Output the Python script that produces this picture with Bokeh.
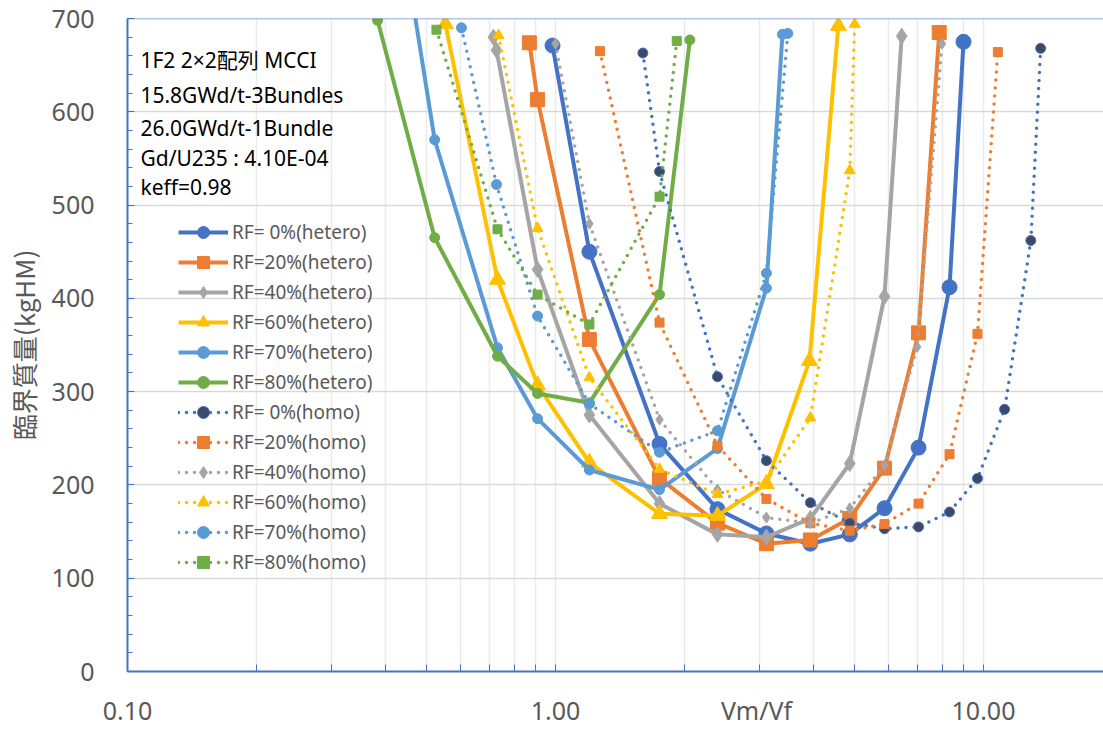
import numpy as np
from bokeh.plotting import figure
from bokeh.models import FixedTicker, PrintfTickFormatter, Label, Span, Legend, LegendItem
from bokeh.embed import file_html
from bokeh.resources import INLINE

# ---------------- data ----------------
x_rf0_het = [0.984, 1.20, 1.75, 2.39, 3.11, 3.94, 4.87, 5.87, 7.05, 8.33, 8.98]
y_rf0_het = [671, 450, 244, 174, 148, 137, 147, 175, 240, 412, 675]
x_rf20_het = [0.869, 0.908, 1.20, 1.75, 2.39, 3.11, 3.94, 4.87, 5.87, 7.05, 7.88]
y_rf20_het = [674, 613, 356, 207, 159, 137, 141, 164, 218, 363, 685]
x_rf40_het = [0.716, 0.728, 0.908, 1.20, 1.75, 2.39, 3.11, 3.94, 4.87, 5.87, 6.44]
y_rf40_het = [680, 666, 431, 275, 180, 147, 144, 164, 223, 402, 681]
x_rf60_het = [0.553, 0.732, 0.908, 1.20, 1.75, 2.39, 3.11, 3.92, 4.58]
y_rf60_het = [694, 420, 307, 224, 169, 167, 201, 333, 692]
x_rf70_het = [0.384, 0.522, 0.732, 0.908, 1.20, 1.75, 2.39, 3.11, 3.39]
y_rf70_het = [955, 570, 347, 271, 216, 195, 239, 411, 683]
x_rf80_het = [0.384, 0.522, 0.732, 0.908, 1.20, 1.75, 2.06]
y_rf80_het = [698, 465, 338, 298, 288, 404, 677]

x_rf0_hom = [1.60, 1.75, 2.39, 3.11, 3.94, 4.87, 5.87, 7.05, 8.33, 9.68, 11.2, 12.9, 13.6]
y_rf0_hom = [663, 536, 316, 226, 181, 159, 153, 155, 171, 207, 281, 462, 668]
x_rf20_hom = [1.27, 1.75, 2.39, 3.11, 3.94, 4.87, 5.87, 7.05, 8.33, 9.68, 10.8]
y_rf20_hom = [665, 374, 242, 185, 159, 151, 158, 180, 233, 362, 664]
x_rf40_hom = [1.00, 1.20, 1.75, 2.39, 3.11, 3.94, 4.87, 5.87, 7.00, 8.00]
y_rf40_hom = [673, 480, 270, 195, 165, 159, 175, 221, 348, 673]
x_rf60_hom = [0.736, 0.908, 1.20, 1.75, 2.39, 3.11, 3.94, 4.87, 5.00]
y_rf60_hom = [682, 475, 315, 217, 190, 204, 272, 537, 694]
x_rf70_hom = [0.603, 0.728, 0.908, 1.20, 1.75, 2.39, 3.11, 3.49]
y_rf70_hom = [690, 522, 381, 287, 235, 258, 427, 684]
x_rf80_hom = [0.527, 0.732, 0.908, 1.20, 1.75, 1.92]
y_rf80_hom = [688, 474, 404, 372, 509, 676]

series_labels = ["RF= 0%(hetero)", "RF=20%(hetero)", "RF=40%(hetero)", "RF=60%(hetero)",
                 "RF=70%(hetero)", "RF=80%(hetero)", "RF= 0%(homo)", "RF=20%(homo)",
                 "RF=40%(homo)", "RF=60%(homo)", "RF=70%(homo)", "RF=80%(homo)"]
x_major = [0.1, 1, 10]
x_tick_fmt = "%.2f"
y_major = [0, 100, 200, 300, 400, 500, 600, 700]
note_lines = ["1F2 2×2配列 MCCI", "15.8GWd/t-3Bundles", "26.0GWd/t-1Bundle",
              "Gd/U235 : 4.10E-04", "keff=0.98"]
x_title = "Vm/Vf"
x_title_pos = 2.95          # where the x title sits along the log axis (as in the reference)
y_title = "臨界質量(kgHM)"

# ---------------- styling ----------------
BLUE, ORANGE, GRAY, YELLOW, LBLUE, GREEN = "#4472C4", "#ED7D31", "#A5A5A5", "#FFC000", "#5B9BD5", "#70AD47"
DARK = "#3B4A66"
TXT = "#595959"
FONT = "'Noto Sans', 'Noto Sans CJK JP'"

p = figure(width=1103, height=730, x_axis_type="log", x_range=(0.1, 19.07), y_range=(0, 700),
           output_backend="svg", toolbar_location=None,
           min_border_left=127, min_border_right=0, min_border_top=18, min_border_bottom=59)
p.outline_line_color = None
p.background_fill_color = "white"

minor_x = [m * d for d in (0.1, 1, 10) for m in range(2, 10)]
# x axis: the title is drawn in the tick-label row, as in the reference
p.xaxis.ticker = FixedTicker(ticks=x_major + [x_title_pos], minor_ticks=minor_x + [1, 10])
p.xaxis.formatter = PrintfTickFormatter(format=x_tick_fmt)
p.xaxis.major_label_overrides = {x_title_pos: x_title}
p.xgrid.ticker = FixedTicker(ticks=x_major, minor_ticks=minor_x)
p.yaxis.ticker = FixedTicker(ticks=y_major, minor_ticks=list(range(0, 701, 20)))

for ax in (p.xaxis[0], p.yaxis[0]):
    ax.axis_line_color = BLUE
    ax.axis_line_width = 2
    ax.major_tick_line_color = BLUE
    ax.minor_tick_line_color = BLUE
    ax.major_tick_out = 0
    ax.minor_tick_out = 0
    ax.major_label_text_font = "Noto Sans"
    ax.major_label_text_font_size = "25px"
    ax.major_label_text_color = TXT

p.xaxis.major_tick_in = 0
p.xaxis.minor_tick_in = 7
p.yaxis.major_tick_in = 7
p.yaxis.minor_tick_in = 5

p.xaxis.major_label_standoff = 21
p.yaxis.major_label_standoff = 33
p.yaxis.axis_label = y_title
p.yaxis.axis_label_text_font = "Noto Sans CJK JP"
p.yaxis.axis_label_text_font_size = "26px"
p.yaxis.axis_label_text_font_style = "normal"
p.yaxis.axis_label_text_color = TXT
p.yaxis.axis_label_standoff = 7

p.ygrid.grid_line_color = "#D9D9D9"
p.ygrid.grid_line_width = 1.5
p.xgrid.grid_line_color = "#EBEBEB"
p.xgrid.grid_line_width = 1.5
p.xgrid.minor_grid_line_color = "#EBEBEB"
p.xgrid.minor_grid_line_width = 1.5

p.add_layout(Span(location=700, dimension="width", line_color=BLUE, line_width=1.5, line_alpha=0.8))

# ---------------- series ----------------
specs = [
    (x_rf0_het, y_rf0_het, BLUE, None, "circle", 15, BLUE),
    (x_rf20_het, y_rf20_het, ORANGE, None, "square", 14, ORANGE),
    (x_rf40_het, y_rf40_het, GRAY, None, "diamond", 16, GRAY),
    (x_rf60_het, y_rf60_het, YELLOW, None, "triangle", 16, YELLOW),
    (x_rf70_het, y_rf70_het, LBLUE, None, "circle", 10, LBLUE),
    (x_rf80_het, y_rf80_het, GREEN, None, "circle", 10, GREEN),
    (x_rf0_hom, y_rf0_hom, BLUE, "dot", "circle", 10, DARK),
    (x_rf20_hom, y_rf20_hom, ORANGE, "dot", "square", 9, ORANGE),
    (x_rf40_hom, y_rf40_hom, GRAY, "dot", "diamond", 11, GRAY),
    (x_rf60_hom, y_rf60_hom, YELLOW, "dot", "triangle", 11, YELLOW),
    (x_rf70_hom, y_rf70_hom, LBLUE, "dot", "circle", 10, LBLUE),
    (x_rf80_hom, y_rf80_hom, GREEN, "dot", "square", 9, GREEN),
]

items = []
for (xs, ys, col, dash, mk, sz, fill), lab in zip(specs, series_labels):
    if dash:
        lr = p.line(xs, ys, line_color=col, line_width=3.5, line_dash="0 8", line_cap="round",
                    line_join="round")
    else:
        lr = p.line(xs, ys, line_color=col, line_width=4, line_join="round")
    sr = p.scatter(xs, ys, marker=mk, size=sz, fill_color=fill, line_color=col, line_width=1)
    items.append(LegendItem(label=lab, renderers=[lr, sr]))

legend = Legend(items=items, location=(51, 94), orientation="vertical",
                background_fill_alpha=0, border_line_alpha=0, padding=0, margin=0,
                spacing=0, glyph_width=50, glyph_height=30, label_height=30,
                label_standoff=4, label_text_font="Noto Sans", label_text_font_size="19px",
                label_text_color=TXT)
p.add_layout(legend, "center")

# ---------------- annotation texts ----------------
note_y = [655, 618, 583, 550, 519]
for t, yv in zip(note_lines, note_y):
    p.add_layout(Label(x=0.1072, y=yv, text=t, text_font=FONT,
                       text_font_size="21px", text_color="black", text_baseline="middle",
                       text_align="left"))

open("out.html", "w").write(file_html(p, INLINE))
